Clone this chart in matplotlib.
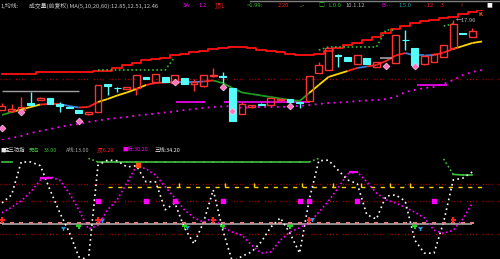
import matplotlib.pyplot as plt
import numpy as np
from matplotlib.patches import Rectangle
from matplotlib.lines import Line2D

plt.rcParams['font.family'] = ['Noto Sans CJK SC', 'DejaVu Sans']

# ---------------- price panel, one value per bar ----------------
opens = [9.0, 8.9, 9.0, 9.7, 10.0, 10.2, 9.6, 9.3, 9.0, 8.6,
         8.8, 11.55, 11.2, 11.1, 11.2, 12.25, 11.8, 12.3, 11.7, 12.2,
         11.6, 11.4, 12.4, 12.4, 11.2, 8.6, 9.3, 9.6, 9.5, 10.0,
         10.1, 9.75, 9.9, 12.7, 13.0, 14.45, 14.3, 13.6, 14.2, 13.3,
         14.2, 13.7, 16.0, 15.2, 13.6, 13.8, 14.3, 15.2, 16.7, 16.3]
highs = [9.7, 9.6, 10.3, 10.8, 10.3, 10.2, 9.8, 9.35, 9.0, 8.8,
         11.5, 11.6, 11.3, 11.3, 12.5, 12.25, 12.6, 12.3, 12.5, 12.2,
         12.1, 12.5, 13.2, 12.8, 11.2, 9.8, 9.5, 9.65, 10.2, 10.1,
         10.1, 9.8, 12.4, 13.8, 15.3, 14.6, 14.3, 14.5, 14.2, 13.8,
         14.2, 16.5, 17.0, 15.2, 14.5, 14.7, 15.5, 18.0, 16.7, 17.2]
lows = [9.0, 8.8, 8.9, 9.5, 10.0, 9.6, 8.8, 9.2, 8.7, 8.5,
        8.8, 10.5, 10.8, 11.1, 10.5, 12.1, 11.7, 11.8, 11.5, 11.6,
        10.9, 11.3, 12.3, 11.7, 7.9, 8.6, 9.2, 9.45, 9.5, 10.0,
        9.8, 9.2, 9.9, 12.7, 13.0, 13.3, 13.9, 13.6, 13.6, 13.3,
        14.2, 13.7, 15.0, 13.5, 13.5, 13.8, 14.3, 15.2, 16.6, 16.3]
closes = [9.4, 9.1, 9.3, 9.5, 10.2, 9.6, 9.4, 9.25, 8.7, 8.8,
          11.5, 11.45, 11.15, 11.3, 12.5, 12.1, 12.6, 11.8, 12.5, 11.6,
          11.8, 12.5, 12.5, 12.3, 7.9, 9.6, 9.45, 9.5, 10.2, 10.1,
          9.8, 9.7, 12.4, 13.5, 15.2, 14.35, 13.9, 14.5, 13.6, 13.8,
          14.2, 16.5, 15.95, 13.5, 14.4, 14.6, 15.5, 17.6, 16.6, 16.9]

upper_band = [12.6, 12.6, 12.6, 12.6, 12.8, 12.8, 12.8, 12.8, 12.8, 12.8,
              12.9, 12.9, 13.2, 13.5, 13.7, 14.0, 14.1, 14.2, 14.5, 14.6,
              14.8, 14.9, 15.1, 15.2, 15.3, 15.3, 15.2, 15.0, 14.9, 14.8,
              14.6, 14.5, 14.5, 14.6, 14.9, 15.2, 15.5, 15.7, 16.0, 16.3,
              16.7, 17.1, 17.4, 17.7, 17.9, 18.0, 18.2, 18.3, 18.6, 18.8, 19.0]
lower_band = [6.0, 6.2, 6.4, 6.7, 6.9, 7.1, 7.3, 7.5, 7.6, 7.8,
              7.95, 8.1, 8.2, 8.3, 8.45, 8.55, 8.65, 8.75, 8.85, 9.0,
              9.1, 9.2, 9.3, 9.35, 9.4, 9.2, 9.3, 9.3, 9.3, 9.3,
              9.35, 9.4, 9.5, 9.6, 9.7, 9.75, 9.8, 9.9, 9.95, 10.0,
              10.1, 10.3, 10.8, 11.0, 11.2, 11.3, 11.6, 12.0, 12.5, 12.8, 13.0]
mid_line = [8.5, 8.8, 9.05, 9.3, 9.55, 9.6, 9.6, 9.4, 9.25, 9.3,
            9.8, 10.1, 10.45, 10.75, 11.1, 11.5, 11.7, 11.75, 11.8, 11.8,
            11.8, 11.85, 11.95, 11.7, 11.2, 10.75, 10.6, 10.45, 10.3, 10.15,
            10.0, 9.9, 10.7, 11.5, 12.3, 12.6, 12.9, 13.2, 13.35, 13.5,
            13.9, 14.45, 14.7, 14.45, 14.45, 14.5, 14.75, 15.1, 15.4, 15.7, 15.85]
# trend state of each segment of mid_line (segment i -> i+1)
mid_trend = ['down', 'strong', 'strong', 'strong', 'up', 'up', 'flat', 'flat', 'up', 'up',
             'strong', 'strong', 'strong', 'strong', 'strong', 'up', 'up', 'up', 'flat', 'flat',
             'flat', 'up', 'down', 'down', 'down', 'down', 'down', 'down', 'down', 'down',
             'down', 'down', 'strong', 'strong', 'strong', 'strong', 'up', 'flat', 'up', 'up',
             'up', 'up', 'flat', 'flat', 'flat', 'up', 'up', 'strong', 'strong', 'strong']
sar = [np.nan] * 10 + [13.0] * 8 + [14.3] + [np.nan] * 14 + [15.0] + [15.3] * 6 + \
      [17.0, 17.0] + [np.nan] * 4 + [17.4, 17.6] + [np.nan] * 3
support_segments = [(18.1, 21.1, 9.8), (23.1, 32.1, 9.8), (43.2, 46.4, 11.5)]
gray_level = (0, 8, 10.9)
red_level = 12.1
gem_bars = [0, 2, 8, 18, 23, 24, 30, 40, 43]
gem_price = [7.2, 8.8, 7.9, 11.8, 11.3, 8.9, 9.4, 13.4, 13.4]

# ---------------- indicator panel ----------------
k_line = [34, 47, 100, 100, 94, 55, 19, -13, -53, -58,
          95, 103, 102, 92, 94, 68, 68, 23, 34, -6,
          -32, 3, 55, -10, -61, -52, -45, -29, -5, 10,
          -15, -47, 39, 102, 103, 87, 71, 65, 15, 8,
          45, 47, 37, -26, -47, -47, 3, 71, 74, 84]
d_line = [18, 27, 37, 52, 71, 76, 71, 50, 23, -8,
          -2, 23, 39, 66, 94, 89, 79, 60, 42, 23,
          10, 3, 10, -5, -13, -18, -34, -47, -45, -26,
          -13, -6, 2, 19, 37, 58, 81, 84, 68, 50,
          39, 34, 27, 19, 10, -10, -15, -10, 8, 34]
g_line = [100, 100] + [np.nan] * 7 + [106] + [100] * 23 + [106] + [np.nan] * 12 + \
         [105, 80, 79, 79]
levels_red = [64.5, 37, -16]
yellow_level = 60
yellow_ticks = [18.4, 23.2, 26.2, 31.2, 34.5, 37.4, 40.4, 42.5]
buy_bars = [0, 10, 22, 32, 47]
sell_bars = [8, 19, 23, 30, 43]
box_bars = [10, 15, 18, 23, 31, 32, 37, 45]
cyan_bars = [6.4, 10.4, 19.3, 32.3, 43.5]
cyan_vals = [-6, 6, -5, 8, -6]
peak_marks = [(4, 5.2, 74), (36.1, 37.1, 84)]

RED = '#ff3232'
CYAN = '#54fcfc'
MAG = '#ff00ff'
trend_colors = {'strong': '#ffd700', 'up': '#ff2020', 'flat': '#3a80d8', 'down': '#1f9a1f'}
DOTTED_RUN = (0, (0.7, 1.4, 0.7, 1.4, 0.7, 1.4, 0.7, 4.2))

n = len(opens)
bars = np.arange(n)
W, H = 500, 259
fig = plt.figure(figsize=(W / 100, H / 100), dpi=100, facecolor='black')
xl = (-2 / 9.6, (W - 2) / 9.6)

ax = fig.add_axes([0, (H - 140) / H, 1, 130 / H], facecolor='black')
ax.set_xlim(*xl)
ax.set_ylim(6.0, 19.0)
ax.axis('off')

ax.axhline(red_level, color='#c00000', lw=1, ls=DOTTED_RUN)
ax.hlines(gray_level[2], gray_level[0], gray_level[1], color='#a0a0a0', lw=1)
ax.plot(np.arange(len(upper_band)), upper_band, color='#ff1010', lw=1.3, drawstyle='steps-mid')
ax.plot(np.arange(len(lower_band)), lower_band, color=MAG, lw=1.3, ls=(0, (1, 2.5)))
ax.plot(np.arange(len(sar)), sar, color='#30c030', lw=1.2, ls=(0, (1, 1.5)))
for x0, x1, lv in support_segments:
    ax.hlines(lv, x0, x1, color=MAG, lw=1.2)
for i, st in enumerate(mid_trend):
    ax.plot([i, i + 1], [mid_line[i], mid_line[i + 1]], color=trend_colors[st], lw=1.3,
            solid_capstyle='butt')

w = 0.7
for i in range(n):
    o, h, l, c = opens[i], highs[i], lows[i], closes[i]
    if c > o:
        ax.vlines(i, c, h, color=RED, lw=1)
        ax.vlines(i, l, o, color=RED, lw=1)
        ax.add_patch(Rectangle((i - w / 2, o), w, c - o, fill=False, ec=RED, lw=1, zorder=3))
    elif c < o:
        ax.vlines(i, l, h, color=CYAN, lw=1, zorder=3)
        ax.add_patch(Rectangle((i - w / 2, c), w, o - c, fc=CYAN, ec=CYAN, lw=0.8, zorder=3))
    else:
        ax.hlines(c, i - 0.6, i + 0.6, color='#a0a0a0', lw=1.2, zorder=3)

ax.scatter(gem_bars, gem_price, marker='D', s=12, color='#ff70c0', edgecolors='#ffc8e8',
           linewidths=0.5, zorder=5)
ax.text(47.3, 17.9, '←17.96', color='#b0b0b0', fontsize=4.2, va='center')
ax.text(49.6, 18.5, 'K', color='#ff6020', fontsize=4.2, va='center', fontweight='bold')

# ---------------- indicator panel ----------------
bx = fig.add_axes([0, 0, 1, 101 / H], facecolor='black')
bx.set_xlim(*xl)
bx.set_ylim((224 - 259) * 100 / 62, (224 - 158) * 100 / 62)
bx.axis('off')

for lv in levels_red:
    bx.axhline(lv, color='#c00000', lw=1, ls=DOTTED_RUN)
bx.hlines(0, 0, n - 1, color='#a8a8a8', lw=1.2)
bx.scatter(bars, np.full(n, 1.2), marker='_', s=10, color='#e08080', linewidths=1.5, zorder=3)
bx.hlines(yellow_level, 11, n, color='#ffd700', lw=1, ls=(0, (3, 4)))
bx.vlines(yellow_ticks, yellow_level, yellow_level + 6, color='#ffd700', lw=1)

gl = np.array(g_line, dtype=float)
for i in range(len(gl) - 1):
    a, b = gl[i], gl[i + 1]
    if np.isnan(a) or np.isnan(b):
        continue
    style = '-' if (a <= 100 and b <= 100) else (0, (1, 1.5))
    bx.plot([i, i + 1], [a, b], color='#40c040', lw=1.2, ls=style)

bx.plot(np.arange(len(d_line)), d_line, color=MAG, lw=1.2, ls=(0, (1, 1.5)))
bx.plot(np.arange(len(k_line)), k_line, color='white', lw=1.2, ls=(0, (1, 2)))
for x0, x1, lv in peak_marks:
    bx.hlines(lv, x0, x1, color=MAG, lw=1.6)
bx.scatter(box_bars, np.full(len(box_bars), 37), marker='s', s=6, color=MAG, zorder=4)
bx.scatter(cyan_bars, cyan_vals, marker='1', s=12, color='#20b0ff', linewidths=1, zorder=4)
bx.scatter(buy_bars, np.full(len(buy_bars), 6.5), marker='P', s=14, color='#ff2020',
           edgecolors='none', zorder=5)
bx.scatter(sell_bars, np.full(len(sell_bars), -3.5), marker='P', s=14, color='#20d020',
           edgecolors='none', zorder=5)
bx.scatter([14.2], [95], marker='s', s=6, color='#ff5010', zorder=5)

# ---------------- header texts ----------------
def put(x, y, s, color, size=4.2):
    fig.text(x / W, 1 - y / H, s, color=color, fontsize=size, va='center', ha='left')

top_row = [(0, '1,均线:', '#c8c8c8'),
           (29, '成交量(前复权) MA(5,10,20,60):12.85,12.51,12.46', '#c8c8c8'),
           (183, 'SA:', MAG), (198, '1.2', MAG), (215, '顶↓', '#ff2020'),
           (247, '=1.99:', '#30c030'), (278, '2.20', '#ff2020'), (300, '..-', '#ffd700'),
           (318, '□', '#30c030'), (328, 'L.0.0', '#30c030'), (345, '10.1.12', '#b0b0b0'),
           (381, 'B.--', MAG), (398, '1.5.0', '#20a0a0'), (424, '-.12', '#ff2020'),
           (440, '.3', '#ff2020'), (460, '!', '#ff2020'), (486, '■', 'white')]
for x, s, c in top_row:
    put(x, 5.5, s, c)

bottom_row = [(0, '■', '#e8e8e8'), (4, '庄三功指', '#e8e8e8'), (29, '无名', '#40c040'),
              (44, '33.00', '#40c040'), (66, 'A线:13.00', '#a0a0a0'), (97, '顶:6.20', '#ff2020'),
              (122, '■低:30.20', MAG), (155, '三线:34.20', '#f0f0f0')]
for x, s, c in bottom_row:
    put(x, 150, s, c, size=3.9)

fig.add_artist(Line2D([0.5, 1], [1 - 0.5 / H, 1 - 0.5 / H], color='#808080', lw=1))

fig.savefig('out.png', dpi=100, facecolor='black')
